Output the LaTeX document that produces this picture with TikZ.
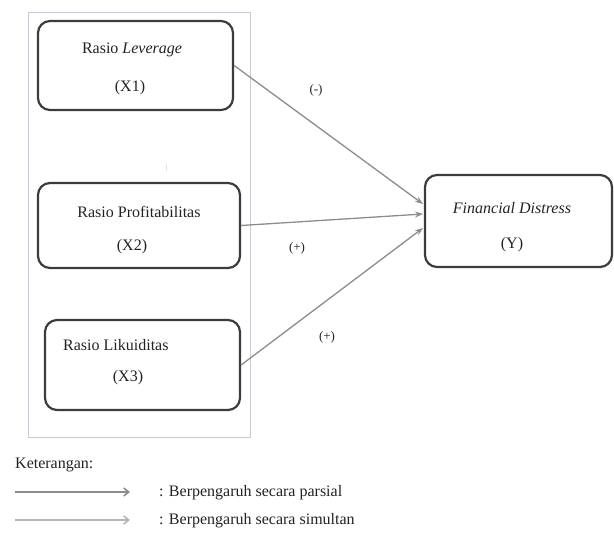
\documentclass[tikz,border=0pt]{standalone}
\usepackage{fontspec}
\setmainfont{Liberation Serif}
\usetikzlibrary{arrows.meta}
\definecolor{boxc}{HTML}{3C3C3C}
\definecolor{outerc}{HTML}{C9CAD3}
\definecolor{arrc}{HTML}{8C8C8C}
\definecolor{arrlight}{HTML}{B5B5B5}
\definecolor{txt}{HTML}{222222}
\begin{document}
\begin{tikzpicture}[x=1pt,y=-1pt,
  box/.style={draw=boxc, line width=2.2pt, rounded corners=12pt, inner sep=0pt},
  lbl/.style={font=\fontsize{16}{18}\selectfont, text=txt, inner sep=0pt},
  sign/.style={font=\fontsize{13}{15}\selectfont, text=txt, inner sep=0pt},
  conn/.style={draw=arrc, line width=1.3pt, -{Stealth[length=8pt,width=6pt]}},
  legarrow/.style={line width=1.6pt, -{Straight Barb[length=5pt,width=8pt]}}]
\useasboundingbox (0,0) rectangle (614,533);
% outer frame
\draw[outerc, line width=1pt] (28,12) rectangle (250,437);
% boxes
\node[box, minimum width=195pt, minimum height=89pt] (x1) at (135.5,65.5) {};
\node[box, minimum width=202pt, minimum height=85pt] (x2) at (139,225.5) {};
\node[box, minimum width=195pt, minimum height=90pt] (x3) at (142.5,365) {};
\node[box, minimum width=187pt, minimum height=92pt] (yb) at (518.5,221) {};
% box texts
\node[lbl] (t1a) at (132,50) {Rasio \textit{Leverage}};
\node[lbl] (t1b) at (130,88) {(X1)};
\node[lbl] (t2a) at (139,212) {Rasio Profitabilitas};
\node[lbl] (t2b) at (132,247) {(X2)};
\node[lbl, anchor=west] (t3a) at (63,345) {Rasio Likuiditas};
\node[lbl] (t3b) at (128,378) {(X3)};
\node[lbl] (tya) at (512,208) {\textit{Financial Distress}};
\node[lbl] (tyb) at (512,245) {(Y)};
% stray mark
\node[font=\fontsize{8}{9}\selectfont, text=arrlight, inner sep=0pt] (mark) at (167,168) {|};
% connectors
\coordinate (e1) at (423,204);
\coordinate (e2) at (423,214);
\coordinate (e3) at (423,228);
\draw[conn] (x1.east) -- (e1);
\draw[conn] (x2.east) -- (e2);
\draw[conn] (x3.east) -- (e3);
% signs
\node[sign] (s1) at (316,90) {(-)};
\node[sign] (s2) at (297,248) {(+)};
\node[sign] (s3) at (327,337) {(+)};
% legend
\node[lbl, anchor=west] (ket) at (15,465) {Keterangan:};
\coordinate (l1a) at (15,492);
\coordinate (l1b) at (130,492);
\coordinate (l2a) at (15,520);
\coordinate (l2b) at (130,520);
\draw[legarrow, draw=arrc] (l1a) -- (l1b);
\draw[legarrow, draw=arrlight] (l2a) -- (l2b);
\node[lbl, anchor=west] (leg1) at (159,493) {: Berpengaruh secara parsial};
\node[lbl, anchor=west] (leg2) at (159,521) {: Berpengaruh secara simultan};
\end{tikzpicture}
\end{document}
